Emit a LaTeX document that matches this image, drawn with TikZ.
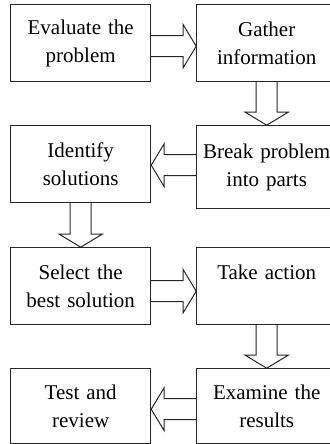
\documentclass[tikz,border=0pt]{standalone}
\usepackage{fontspec}
\setmainfont{Liberation Serif}
\usetikzlibrary{calc}

\newcommand{\fatarrow}[3][0bp]{%
	\coordinate (fa-s) at ($(#2)+(0,#1)$);
	\coordinate (fa-e) at ($(#3)+(0,#1)$);
	\coordinate (fa-b) at ($(fa-e)!13bp!(fa-s)$);
	\draw [fat] ($(fa-s)!10.5bp!90:(fa-e)$) -- ($(fa-b)!10.5bp!90:(fa-e)$)
		-- ($(fa-b)!21.5bp!90:(fa-e)$) -- (fa-e)
		-- ($(fa-b)!21.5bp!-90:(fa-e)$) -- ($(fa-b)!10.5bp!-90:(fa-e)$)
		-- ($(fa-s)!10.5bp!-90:(fa-e)$);
}

\begin{document}
\begin{tikzpicture}[
	block/.style={
		rectangle,
		draw=black!85, line width=1bp,
		text width=130bp, inner sep=5bp, minimum height=77bp, align=center,
		font=\fontsize{21bp}{28bp}\selectfont
	},
	fat/.style={draw=black!85, line width=1bp, line join=miter},
	]
	\useasboundingbox (0,0) rectangle (330bp,-444bp);
	\matrix[anchor=north west, inner sep=0pt, row sep=43bp, column sep=45bp] at (10bp,-4bp) {
		\node [block] (ev) {Evaluate the\\problem};
		& \node [block] (ga) {Gather\\information}; \\
		\node [block] (id) {Identify\\solutions};
		& \node [block, minimum height=83bp] (br) {Break problem\\into parts}; \\[-5bp]
		\node [block] (se) {Select the\\best solution};
		& \node [block] (ta) {Take action\\\mbox{}}; \\
		\node [block, minimum height=75bp] (te) {Test and\\review};
		& \node [block, minimum height=75bp] (ex) {Examine the\\results}; \\
	};

	\fatarrow[-3bp]{ev.east}{ga.west |- ev.east}
	\fatarrow{ga.south}{br.north}
	\fatarrow[2bp]{br.west}{id.east |- br.west}
	\fatarrow{id.south}{se.north}
	\fatarrow[-5bp]{se.east}{ta.west |- se.east}
	\fatarrow{ta.south}{ex.north}
	\fatarrow[-3bp]{ex.west}{te.east |- ex.west}
\end{tikzpicture}
\end{document}
